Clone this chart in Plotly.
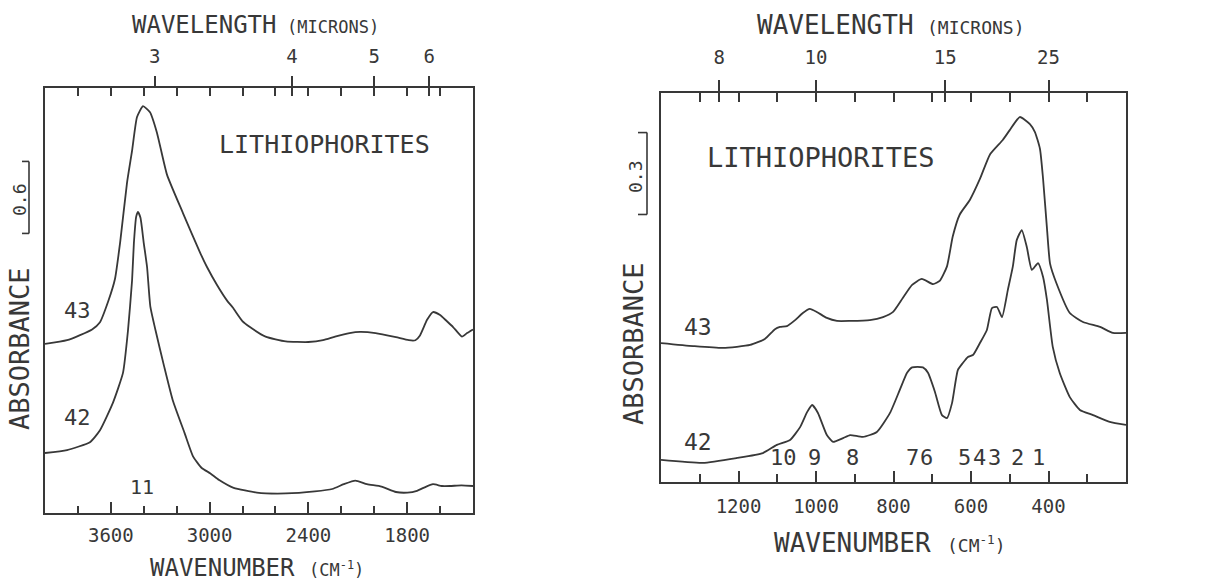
import plotly.graph_objects as go

FONT = "DejaVu Sans Mono, Liberation Mono, monospace"
INK = "#383838"
W, H = 1218, 583

# ---- OH-stretching region (4000-1400 cm-1) ----
oh_wn_43 = [4000, 3866, 3714, 3666, 3617, 3575, 3544, 3502, 3471, 3441, 3405,
            3362, 3320, 3259, 3162, 3058, 3016, 2955, 2894, 2858, 2801, 2755,
            2660, 2537, 2400, 2311, 2238, 2150, 2086, 1992, 1868, 1790, 1750,
            1722, 1679, 1643, 1600, 1560, 1521, 1467, 1436, 1400]
oh_abs_43 = [1.41, 1.44, 1.53, 1.59, 1.76, 1.95, 2.25, 2.75, 3.02, 3.30, 3.39,
             3.34, 3.17, 2.82, 2.50, 2.17, 2.05, 1.90, 1.77, 1.71, 1.60, 1.55,
             1.47, 1.43, 1.425, 1.44, 1.47, 1.50, 1.51, 1.50, 1.465, 1.44, 1.44,
             1.48, 1.61, 1.675, 1.65, 1.60, 1.55, 1.47, 1.50, 1.53]

oh_wn_42 = [4000, 3866, 3727, 3666, 3587, 3526, 3496, 3471, 3460, 3446, 3435,
            3420, 3400, 3380, 3360, 3329, 3276, 3224, 3153, 3100, 3048, 2995,
            2942, 2854, 2713, 2537, 2361, 2255, 2185, 2115, 2044, 1956, 1868,
            1798, 1740, 1700, 1643, 1590, 1540, 1470, 1400]
oh_abs_42 = [0.50, 0.525, 0.59, 0.69, 0.92, 1.17, 1.52, 1.94, 2.25, 2.47, 2.51,
             2.46, 2.25, 2.05, 1.72, 1.525, 1.22, 0.94, 0.67, 0.47, 0.375, 0.33,
             0.275, 0.21, 0.17, 0.163, 0.18, 0.20, 0.24, 0.27, 0.24, 0.22, 0.175,
             0.17, 0.185, 0.21, 0.24, 0.225, 0.225, 0.23, 0.225]

oh_tick_labels = [3600, 3000, 2400, 1800]
oh_minor_ticks = [3800, 3600, 3400, 3200, 3000, 2800, 2600, 2400, 2200, 2000, 1800, 1600]
oh_wavelengths = [3, 4, 5, 6]

# ---- lattice region (1400-200 cm-1) ----
lat_wn_43 = [1400, 1317, 1240, 1170, 1132, 1106, 1093, 1075, 1054, 1034, 1016,
             998, 972, 946, 912, 861, 827, 801, 776, 752, 727, 698, 680, 662,
             647, 629, 603, 577, 551, 518, 500, 474, 448, 435, 422, 414, 404,
             396, 380, 345, 311, 267, 234, 200]
lat_abs_43 = [0.509, 0.498, 0.491, 0.502, 0.524, 0.560, 0.568, 0.571, 0.593, 0.619, 0.634,
              0.623, 0.601, 0.590, 0.590, 0.593, 0.604, 0.623, 0.674, 0.722, 0.744, 0.725, 0.738, 0.79,
              0.90, 0.98, 1.033, 1.11, 1.20, 1.253, 1.289, 1.337, 1.311, 1.282, 1.22, 1.11, 0.93,
              0.80, 0.73, 0.619, 0.586, 0.568, 0.546, 0.546]

lat_wn_42 = [1400, 1292, 1204, 1137, 1101, 1067, 1041, 1023, 1010, 995, 972, 956,
             930, 912, 879, 843, 809, 783, 765, 752, 724, 711, 693, 675, 662, 649,
             634, 621, 608, 595, 577, 559, 546, 533, 520, 505, 492, 482, 469, 456,
             443, 427, 414, 404, 389, 371, 345, 319, 285, 242, 200]
lat_abs_42 = [0.081, 0.070, 0.088, 0.106, 0.136, 0.154, 0.201, 0.256, 0.282, 0.253, 0.172, 0.147,
              0.161, 0.172, 0.165, 0.183, 0.253, 0.34, 0.40, 0.42, 0.42, 0.40, 0.33, 0.245, 0.234, 0.289,
              0.41, 0.436, 0.458, 0.465, 0.509, 0.557, 0.637, 0.641, 0.604, 0.703, 0.79, 0.886, 0.923, 0.861,
              0.777, 0.802, 0.751, 0.667, 0.495, 0.399, 0.311, 0.264, 0.245, 0.220, 0.209]

lat_tick_labels = [1200, 1000, 800, 600, 400]
lat_minor_ticks = [1300, 1200, 1100, 1000, 900, 800, 700, 600, 500, 400, 300]
lat_wavelengths = [8, 10, 15, 25]

# numbered absorption bands
band_names = ["11", "10", "9", "8", "7", "6", "5", "4", "3", "2", "1"]
band_wn = [3411, 1083, 1003, 905, 750, 714, 616, 577, 539, 479, 427]
band_panel = ["oh", "lat", "lat", "lat", "lat", "lat", "lat", "lat", "lat", "lat", "lat"]


def px(x):
    return x / W


def py(y):
    return 1 - y / H


line_style = dict(color=INK, width=1.8, shape="spline", smoothing=0.5)

fig = go.Figure()
for xs, ys in [(oh_wn_43, oh_abs_43), (oh_wn_42, oh_abs_42)]:
    fig.add_trace(go.Scatter(x=xs, y=ys, mode="lines", line=line_style,
                             xaxis="x", yaxis="y", hoverinfo="skip", showlegend=False))
for xs, ys in [(lat_wn_43, lat_abs_43), (lat_wn_42, lat_abs_42)]:
    fig.add_trace(go.Scatter(x=xs, y=ys, mode="lines", line=line_style,
                             xaxis="x3", yaxis="y3", hoverinfo="skip", showlegend=False))
# invisible copies so the wavelength (top) axes get drawn
fig.add_trace(go.Scatter(x=oh_wn_43, y=oh_abs_43, mode="lines", line=dict(width=0), opacity=0,
                         xaxis="x2", yaxis="y", hoverinfo="skip", showlegend=False))
fig.add_trace(go.Scatter(x=lat_wn_43, y=lat_abs_43, mode="lines", line=dict(width=0), opacity=0,
                         xaxis="x4", yaxis="y3", hoverinfo="skip", showlegend=False))

tick_font = dict(family=FONT, size=19, color=INK)
common_x = dict(showline=True, linecolor=INK, linewidth=1.8, showgrid=False, zeroline=False,
                tickcolor=INK, tickwidth=1.6, tickfont=tick_font, fixedrange=True)
common_y = dict(showline=True, mirror=True, linecolor=INK, linewidth=1.8, showgrid=False,
                zeroline=False, ticks="", showticklabels=False, fixedrange=True)

oh_range = [4000, 1400]
lat_range = [1400, 200]

fig.update_layout(
    width=W, height=H,
    margin=dict(l=0, r=0, t=0, b=0),
    paper_bgcolor="white", plot_bgcolor="white",
    xaxis=dict(domain=[px(45), px(473)], range=oh_range, anchor="y",
               tickmode="array", tickvals=oh_tick_labels, ticks="inside", ticklen=11,
               ticklabelstandoff=4,
               minor=dict(tickmode="array", tickvals=oh_minor_ticks, ticks="inside",
                          ticklen=7, tickwidth=1.6, tickcolor=INK),
               **common_x),
    xaxis2=dict(overlaying="x", side="top", range=oh_range, anchor="y",
                tickmode="array", tickvals=[1e4 / w for w in oh_wavelengths],
                ticktext=[str(w) for w in oh_wavelengths], ticks="outside", ticklen=10,
                ticklabelstandoff=6,
                minor=dict(tickmode="array",
                           tickvals=oh_minor_ticks + [1e4 / w for w in oh_wavelengths[1:]],
                           ticks="inside", ticklen=8, tickwidth=1.6, tickcolor=INK),
                **common_x),
    yaxis=dict(domain=[py(513), py(88)], range=[0, 3.542], anchor="x", **common_y),
    xaxis3=dict(domain=[px(661), px(1126)], range=lat_range, anchor="y3",
                tickmode="array", tickvals=lat_tick_labels, ticks="inside", ticklen=11,
                ticklabelstandoff=6,
                minor=dict(tickmode="array", tickvals=lat_minor_ticks, ticks="inside",
                           ticklen=8, tickwidth=1.6, tickcolor=INK),
                **common_x),
    xaxis4=dict(overlaying="x3", side="top", range=lat_range, anchor="y3",
                tickmode="array", tickvals=[1e4 / w for w in lat_wavelengths],
                ticktext=[str(w) for w in lat_wavelengths], ticks="outside", ticklen=11,
                ticklabelstandoff=9,
                minor=dict(tickmode="array",
                           tickvals=lat_minor_ticks + [1e4 / w for w in lat_wavelengths],
                           ticks="inside", ticklen=9, tickwidth=1.6, tickcolor=INK),
                **common_x),
    yaxis3=dict(domain=[py(482), py(93)], range=[0, 1.425], anchor="x3", **common_y),
)

ann = []


def text(x, y, s, size, xref="paper", yref="paper", angle=0, xanchor="center"):
    ann.append(dict(x=x, y=y, xref=xref, yref=yref, text=s, showarrow=False,
                    textangle=angle, xanchor=xanchor, yanchor="middle",
                    font=dict(family=FONT, size=size, color=INK)))


# axis titles
text(px(204), py(25), "WAVELENGTH", 24)
text(px(333), py(27), "(MICRONS)", 17)
text(px(222), py(568), "WAVENUMBER", 24)
text(px(336), py(569), "(CM<sup>-1</sup>)", 17)
text(px(835), py(25), "WAVELENGTH", 26)
text(px(976), py(27), "(MICRONS)", 18)
text(px(852), py(543), "WAVENUMBER", 26)
text(px(976), py(544), "(CM<sup>-1</sup>)", 18)
text(px(19), py(349), "ABSORBANCE", 27, angle=-90)
text(px(633), py(344), "ABSORBANCE", 27, angle=-90)
text(px(19), py(200), "0.6", 18, angle=-90)
text(px(635), py(177), "0.3", 18, angle=-90)

# panel labels and sample numbers
text(2305, 3.067, "LITHIOPHORITES", 25, xref="x", yref="y")
text(987, 1.187, "LITHIOPHORITES", 27, xref="x3", yref="y3")
text(3800, 1.69, "43", 22, xref="x", yref="y")
text(3800, 0.80, "42", 22, xref="x", yref="y")
text(1305, 0.568, "43", 23, xref="x3", yref="y3")
text(1305, 0.147, "42", 23, xref="x3", yref="y3")

for name, wn, panel in zip(band_names, band_wn, band_panel):
    if panel == "oh":
        text(wn, 0.217, name, 20, xref="x", yref="y")
    else:
        text(wn, 0.088, name, 22, xref="x3", yref="y3")

fig.update_layout(annotations=ann)

# absorbance scale bars
shapes = []
for xv, xe, yref, y0, y1 in [(29, 22, "y", 2.33, 2.93), (647, 638, "y3", 0.98, 1.28)]:
    shapes.append(dict(type="line", xref="paper", yref=yref, x0=px(xv), x1=px(xv),
                       y0=y0, y1=y1, line=dict(color=INK, width=1.6)))
    for yy in (y0, y1):
        shapes.append(dict(type="line", xref="paper", yref=yref, x0=px(xe), x1=px(xv),
                           y0=yy, y1=yy, line=dict(color=INK, width=1.6)))
fig.update_layout(shapes=shapes)

fig.write_html("out.html", config={"displayModeBar": False})
